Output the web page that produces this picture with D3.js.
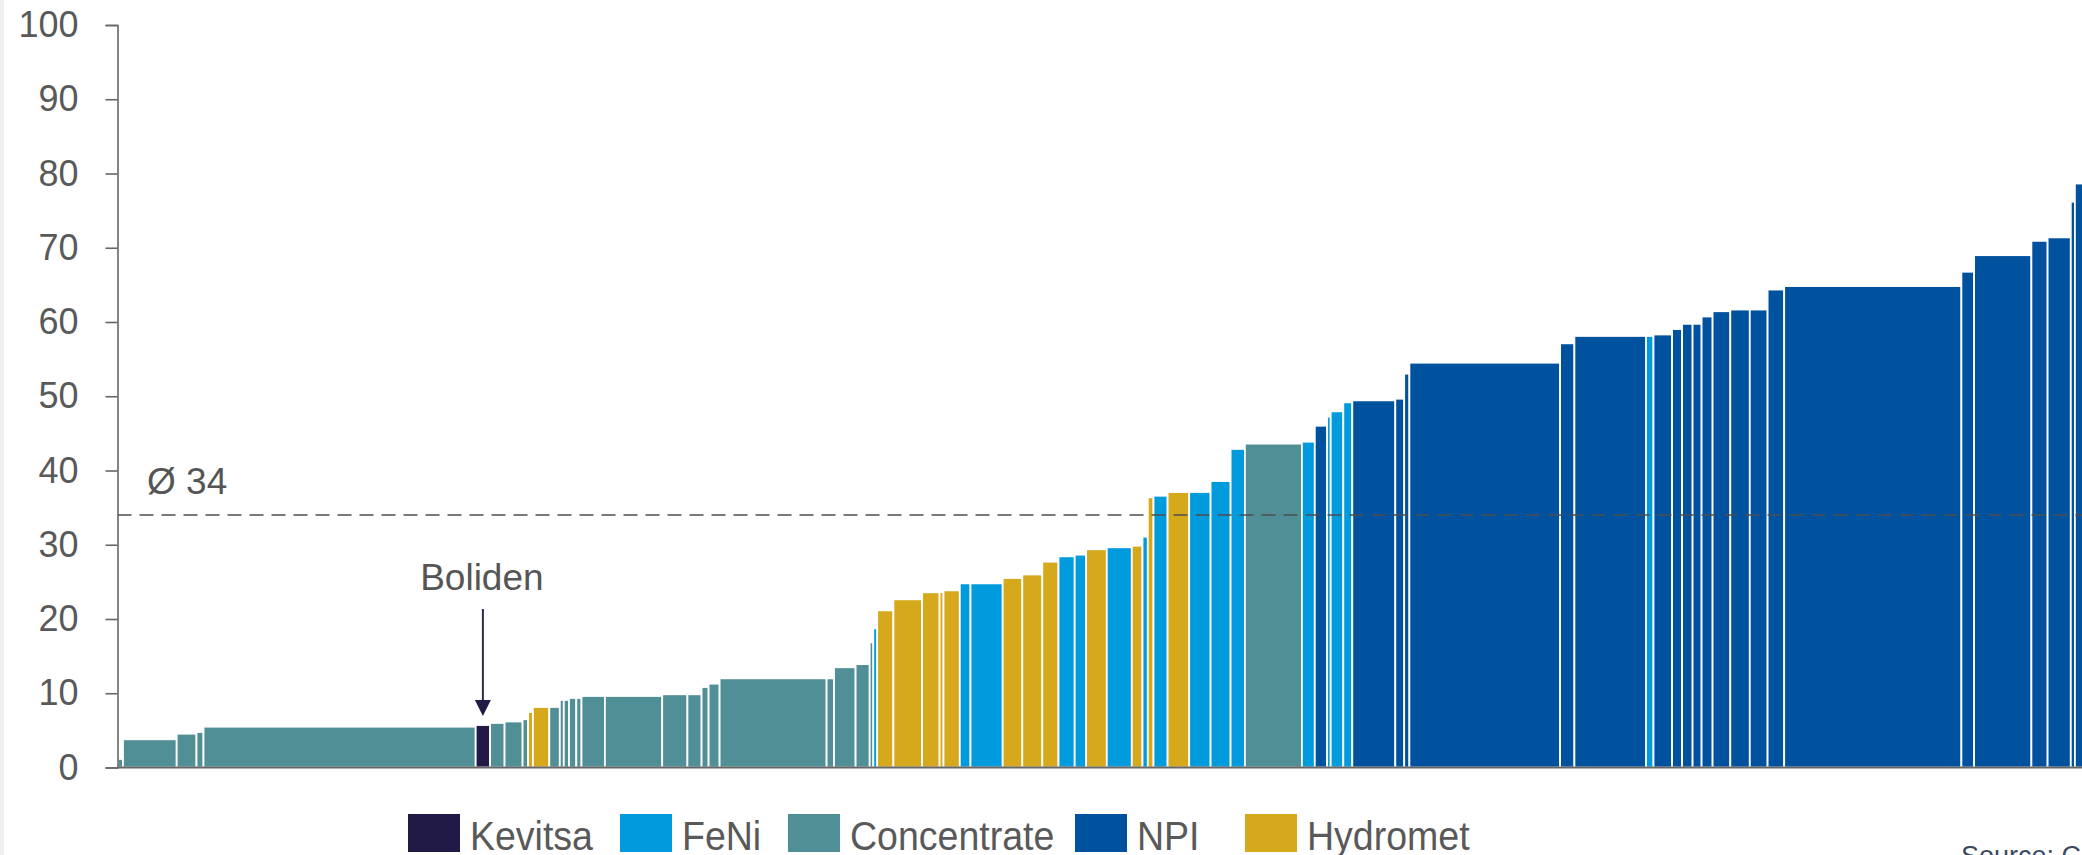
<!DOCTYPE html>
<html>
<head>
<meta charset="utf-8">
<script src="https://cdn.jsdelivr.net/npm/d3@7"></script>
<style>
  html, body { margin: 0; padding: 0; background: #ffffff; overflow: hidden; }
  svg { display: block; font-family: "Liberation Sans", Arial, sans-serif; }
</style>
</head>
<body>
<svg id="chart" width="2082" height="855"></svg>
<script>
// Nickel cost curve: each bar is one producer, width = capacity, height = cost
const categories = ["Kevitsa", "FeNi", "Concentrate", "NPI", "Hydromet"];
const categoryColors = ["#211a47", "#009bdc", "#518f97", "#00529e", "#d5a91b"];

const producerType = [
  "Concentrate", "Concentrate", "Concentrate", "Concentrate", "Concentrate",
  "Kevitsa", "Concentrate", "Concentrate", "Concentrate", "Hydromet",
  "Hydromet", "Concentrate", "Concentrate", "Concentrate", "Concentrate",
  "Concentrate", "Concentrate", "Concentrate", "Concentrate", "Concentrate",
  "Concentrate", "Concentrate", "Concentrate", "Concentrate", "Concentrate",
  "Concentrate", "Concentrate", "FeNi", "Hydromet", "Hydromet",
  "Hydromet", "Hydromet", "Hydromet", "FeNi", "FeNi",
  "Hydromet", "Hydromet", "Hydromet", "FeNi", "FeNi",
  "Hydromet", "FeNi", "Hydromet", "FeNi", "Hydromet",
  "FeNi", "Hydromet", "FeNi", "FeNi", "FeNi",
  "Concentrate", "FeNi", "NPI", "FeNi", "FeNi",
  "FeNi", "NPI", "NPI", "NPI", "NPI",
  "NPI", "NPI", "FeNi", "NPI", "NPI",
  "NPI", "NPI", "NPI", "NPI", "NPI",
  "NPI", "NPI", "NPI", "NPI", "NPI",
  "NPI", "NPI", "NPI", "NPI"
];

const cost = [
  1.15, 3.8, 4.55, 4.78, 5.5,
  5.72, 6.0, 6.2, 6.5, 7.47,
  8.15, 8.15, 9.1, 9.1, 9.36,
  9.36, 9.63, 9.63, 9.86, 9.86,
  10.84, 11.29, 12.01, 12.01, 13.5,
  13.92, 16.86, 18.75, 21.17, 22.65,
  23.6, 23.6, 23.86, 24.8, 24.8,
  25.52, 26.0, 27.72, 28.44, 28.66,
  29.39, 29.66, 29.87, 31.08, 36.39,
  36.6, 37.1, 37.1, 38.58, 42.9,
  43.62, 43.88, 46.03, 47.25, 47.97,
  49.18, 49.45, 49.67, 53.04, 54.52,
  57.13, 58.12, 58.12, 58.32, 59.05,
  59.75, 59.75, 60.74, 61.45, 61.68,
  61.68, 64.37, 64.84, 66.77, 69.0,
  70.93, 71.4, 76.2, 78.65
];

const capacity = [
  5.0, 53.7, 19.8, 7.0, 272.2,
  14.4, 14.5, 18.0, 5.5, 4.8,
  16.4, 10.5, 4.0, 5.2, 7.3,
  5.2, 23.4, 57.3, 25.2, 14.2,
  7.0, 11.0, 107.0, 7.4, 21.6,
  14.1, 3.6, 3.9, 16.2, 28.7,
  17.5, 3.9, 16.3, 10.7, 32.2,
  19.6, 20.0, 16.2, 16.2, 11.4,
  20.7, 25.0, 10.7, 5.3, 5.7,
  14.1, 21.6, 21.4, 20.0, 14.3,
  57.0, 12.9, 12.3, 3.6, 12.6,
  9.0, 43.0, 8.9, 5.2, 150.7,
  14.3, 71.6, 7.5, 18.6, 10.0,
  10.5, 9.0, 11.0, 17.7, 19.5,
  17.8, 16.6, 177.2, 12.7, 57.3,
  16.2, 23.2, 4.1, 30.0
];

const yTicks = [0, 10, 20, 30, 40, 50, 60, 70, 80, 90, 100];
const averageCost = 34;
const averageLabel = "Ø 34";
const highlightLabel = "Boliden";
const sourceLabel = "Source: CRU";

// ---- layout ----
const svg = d3.select("#chart");
const W = 2082, H = 855;
const plotLeft = 117.5;
const plotTop = 25, plotBottom = 767.5;

svg.append("rect").attr("x", 0).attr("y", 0).attr("width", 4).attr("height", H).attr("fill", "#efefef");

const color = d3.scaleOrdinal().domain(categories).range(categoryColors);

// cumulative capacity positions
let acc = 0;
const bars = cost.map((c, i) => {
  const d = { type: producerType[i], cost: c, start: acc, end: acc + capacity[i] };
  acc += capacity[i];
  return d;
});
const totalCapacity = acc;

const x = d3.scaleLinear().domain([0, totalCapacity]).range([plotLeft + 0.5, plotLeft + 0.5 + totalCapacity]);
const y = d3.scaleLinear().domain([0, 100]).range([plotBottom, plotTop]);

// bars
svg.append("g")
  .selectAll("rect")
  .data(bars)
  .join("rect")
  .attr("x", d => x(d.start))
  .attr("width", d => Math.max(0, x(d.end) - x(d.start)))
  .attr("y", d => y(d.cost))
  .attr("height", d => y(0) - y(d.cost))
  .attr("fill", d => color(d.type))
  .attr("stroke", "#ffffff")
  .attr("stroke-width", 1.8);

// average line
svg.append("line")
  .attr("x1", plotLeft).attr("x2", W)
  .attr("y1", y(averageCost)).attr("y2", y(averageCost))
  .attr("stroke", "#4d4d4d")
  .attr("stroke-width", 1.6)
  .attr("stroke-dasharray", "14,8");

svg.append("text")
  .attr("x", 147).attr("y", y(averageCost) - 21)
  .attr("font-size", 37)
  .attr("fill", "#555555")
  .text(averageLabel);

// y axis
const yAxis = d3.axisLeft(y).tickValues(yTicks).tickSize(12).tickPadding(27).tickFormat(d3.format("d"));
const gy = svg.append("g").attr("transform", `translate(${plotLeft},0)`).call(yAxis);
gy.select(".domain").attr("stroke", "#666666").attr("stroke-width", 1.6);
gy.selectAll(".tick line").attr("stroke", "#666666").attr("stroke-width", 1.6);
gy.selectAll(".tick text")
  .attr("font-size", 36)
  .attr("font-family", "Liberation Sans, Arial, sans-serif")
  .attr("fill", "#595959");

// baseline
svg.append("line")
  .attr("x1", plotLeft).attr("x2", W)
  .attr("y1", y(0)).attr("y2", y(0))
  .attr("stroke", "#666666")
  .attr("stroke-width", 1.8);

// highlight annotation
const kev = bars.find(d => d.type === "Kevitsa");
const kx = x((kev.start + kev.end) / 2);
const tipY = y(kev.cost) - 9;
svg.append("text")
  .attr("x", kx - 1).attr("y", 590)
  .attr("text-anchor", "middle")
  .attr("font-size", 37)
  .attr("fill", "#555555")
  .text(highlightLabel);
svg.append("line")
  .attr("x1", kx).attr("x2", kx)
  .attr("y1", 609).attr("y2", tipY - 12)
  .attr("stroke", "#2e2856").attr("stroke-width", 2);
svg.append("path")
  .attr("d", `M${kx - 8},${tipY - 16} L${kx + 8},${tipY - 16} L${kx},${tipY} Z`)
  .attr("fill", "#211a47");

// legend (narrow lettering), one swatch slot per category
const legendSlots = [408, 620, 788, 1075, 1245];
const squeeze = 0.915;
const legend = svg.append("g");
categories.forEach((c, i) => {
  const lx = legendSlots[i];
  legend.append("rect")
    .attr("x", lx).attr("y", 814)
    .attr("width", 52).attr("height", 38)
    .attr("fill", categoryColors[i]);
  legend.append("text")
    .attr("transform", `translate(${lx + 62},850) scale(${squeeze},1)`)
    .attr("font-size", 41)
    .attr("fill", "#595959")
    .text(c);
});

// source note
svg.append("text")
  .attr("x", 1961).attr("y", 865)
  .attr("font-size", 27)
  .attr("fill", "#3b4a5e")
  .text(sourceLabel);
</script>
</body>
</html>
